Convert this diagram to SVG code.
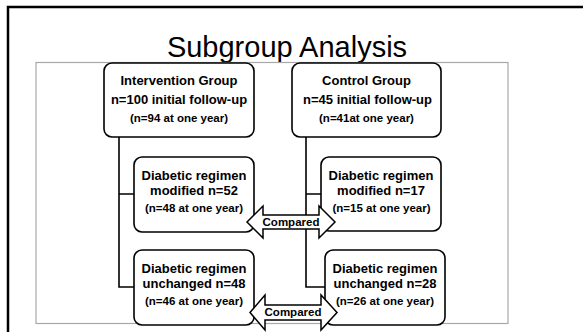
<svg xmlns="http://www.w3.org/2000/svg" width="583" height="332" viewBox="0 0 583 332">
<style>
text{font-family:"Liberation Sans",Arial,sans-serif;fill:#000;text-anchor:middle}
.b{font-weight:bold;font-size:13px}
.s{font-weight:bold;font-size:11.5px}
.box{fill:#fff;stroke:#000;stroke-width:1.6}
.ln{fill:none;stroke:#000;stroke-width:1.6}
.arr{fill:#fff;stroke:#000;stroke-width:1.5;stroke-linejoin:miter}
</style>
<rect x="0" y="0" width="583" height="332" fill="#fff"/>
<rect x="8" y="7" width="620" height="400" fill="none" stroke="#000" stroke-width="2.5"/>
<text x="287" y="57" style="font-size:29px">Subgroup Analysis</text>
<rect x="36" y="62.5" width="472" height="261" fill="none" stroke="#a8a8a8" stroke-width="1.2"/>
<g id="connectors">
<path class="ln" d="M119,137 V287 H134 M119,194 H134"/>
<path class="ln" d="M306,137 V287 H325 M306,194 H321"/>
</g>
<g id="intervention">
<rect class="box" x="104" y="63" width="150" height="74" rx="8"/>
<text class="b" x="179" y="85">Intervention Group</text>
<text class="b" x="179" y="104">n=100 initial follow-up</text>
<text class="s" x="179" y="122">(n=94 at one year)</text>
</g>
<g id="control">
<rect class="box" x="292" y="63" width="149" height="74" rx="8"/>
<text class="b" x="366.5" y="85">Control Group</text>
<text class="b" x="367.5" y="104">n=45 initial follow-up</text>
<text class="s" x="366.5" y="122">(n=41at one year)</text>
</g>
<g id="int-modified">
<rect class="box" x="134" y="157" width="120" height="75" rx="8"/>
<text class="b" x="194" y="180">Diabetic regimen</text>
<text class="b" x="194" y="195">modified n=52</text>
<text class="s" x="194" y="212">(n=48 at one year)</text>
</g>
<g id="ctl-modified">
<rect class="box" x="321" y="157" width="120" height="74" rx="8"/>
<text class="b" x="381" y="180">Diabetic regimen</text>
<text class="b" x="381" y="195">modified n=17</text>
<text class="s" x="381.5" y="212">(n=15 at one year)</text>
</g>
<g id="int-unchanged">
<rect class="box" x="134" y="250" width="120" height="75" rx="8"/>
<text class="b" x="194" y="273">Diabetic regimen</text>
<text class="b" x="194" y="288">unchanged n=48</text>
<text class="s" x="194" y="305">(n=46 at one year)</text>
</g>
<g id="ctl-unchanged">
<rect class="box" x="325" y="250" width="120" height="75" rx="8"/>
<text class="b" x="385" y="273">Diabetic regimen</text>
<text class="b" x="385" y="288">unchanged n=28</text>
<text class="s" x="385" y="305">(n=26 at one year)</text>
</g>
<g id="compared-1">
<polygon class="arr" points="247,222 263,206 263,215 319,215 319,206 335,222 319,238 319,229 263,229 263,238"/>
<text class="s" x="291" y="226">Compared</text>
</g>
<g id="compared-2">
<polygon class="arr" points="250,312.5 265,295 265,305 321,305 321,295 337,312.5 321,330 321,320 265,320 265,330"/>
<text class="s" x="293" y="316">Compared</text>
</g>
</svg>
